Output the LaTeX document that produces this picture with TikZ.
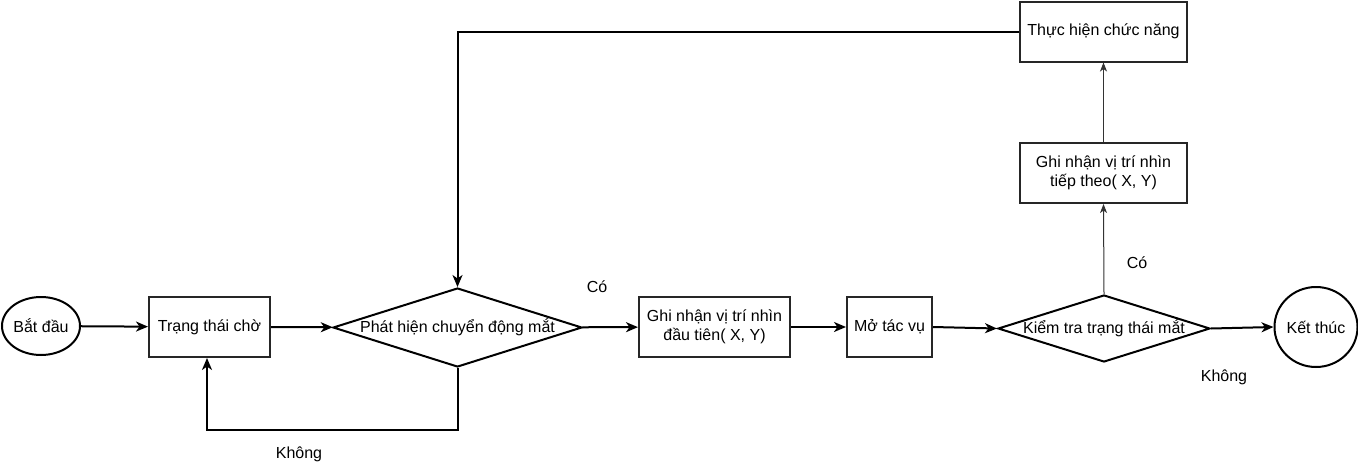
\documentclass[tikz,border=0pt]{standalone}
\usepackage{fontspec}
\setmainfont{Liberation Sans}
\usetikzlibrary{shapes.geometric,arrows.meta}
\begin{document}
\begin{tikzpicture}[x=1pt,y=-1pt,
  font=\fontsize{16}{18.5}\selectfont,
  box/.style={draw=black!85,line width=2pt,rectangle,inner sep=0pt,align=center},
  dia/.style={draw=black,line width=2pt,diamond,inner sep=0pt},
  oval/.style={draw=black,line width=2pt,ellipse,inner sep=0pt},
  thick arrow/.style={line width=2pt,-{Stealth[length=12pt,width=10pt,inset=3.5pt]}},
  thin arrow/.style={line width=1pt,draw=black!80,-{Stealth[length=9pt,width=7pt,inset=2.5pt]}},
  lbl/.style={inner sep=0pt}]
\useasboundingbox (0,0) rectangle (1358,469);
% nodes
\node[oval,minimum width=78,minimum height=58] (start) at (41,326) {Bắt đầu};
\node[box,minimum width=121,minimum height=60] (wait) at (209.5,327) {Trạng thái chờ};
\node[dia,minimum width=249,minimum height=79] (detect) at (457.5,327.5) {};
\node[lbl] (detectT) at (detect.center) {Phát hiện chuyển động mắt};
\node[box,minimum width=151,minimum height=60] (first) at (714.5,327) {Ghi nhận vị trí nhìn\\đầu tiên( X, Y)};
\node[box,minimum width=85,minimum height=60] (open) at (889.5,327) {Mở tác vụ};
\node[dia,minimum width=212,minimum height=67] (check) at (1104,328.5) {};
\node[lbl] (checkT) at (check.center) {Kiểm tra trạng thái mắt};
\node[oval,minimum width=80,minimum height=80] (end) at (1316,327) {Kết thúc};
\node[box,minimum width=167,minimum height=60] (next) at (1103.5,173) {Ghi nhận vị trí nhìn\\tiếp theo( X, Y)};
\node[box,minimum width=167,minimum height=60] (func) at (1103.5,31.5) {Thực hiện chức năng};
% labels
\node[lbl] (co1) at (597,287) {Có};
\node[lbl] (co2) at (1137,263) {Có};
\node[lbl] (khong1) at (299,454) {Không};
\node[lbl] (khong2) at (1224,377) {Không};
% connectors
\coordinate (c1) at (457.5,31.5);
\coordinate (c2) at (457.5,430);
\coordinate (c3) at (207,430);
\draw[thick arrow] (start) -- (wait);
\draw[thick arrow] (wait) -- (detect);
\draw[thick arrow] (detect) -- (first);
\draw[thick arrow] (first.east) -- (open.west);
\draw[thick arrow] (open.east) -- (check.west);
\draw[thick arrow] (check.east) -- (end.west);
\draw[thin arrow] (check.north) -- (next.south);
\draw[thin arrow] (next.north) -- (func.south);
\draw[thick arrow] (func.west) -- (c1) -- (detect.north);
\draw[thick arrow] (detect.south) -- (c2) -- (c3) -- (c3 |- wait.south);
\end{tikzpicture}
\end{document}
